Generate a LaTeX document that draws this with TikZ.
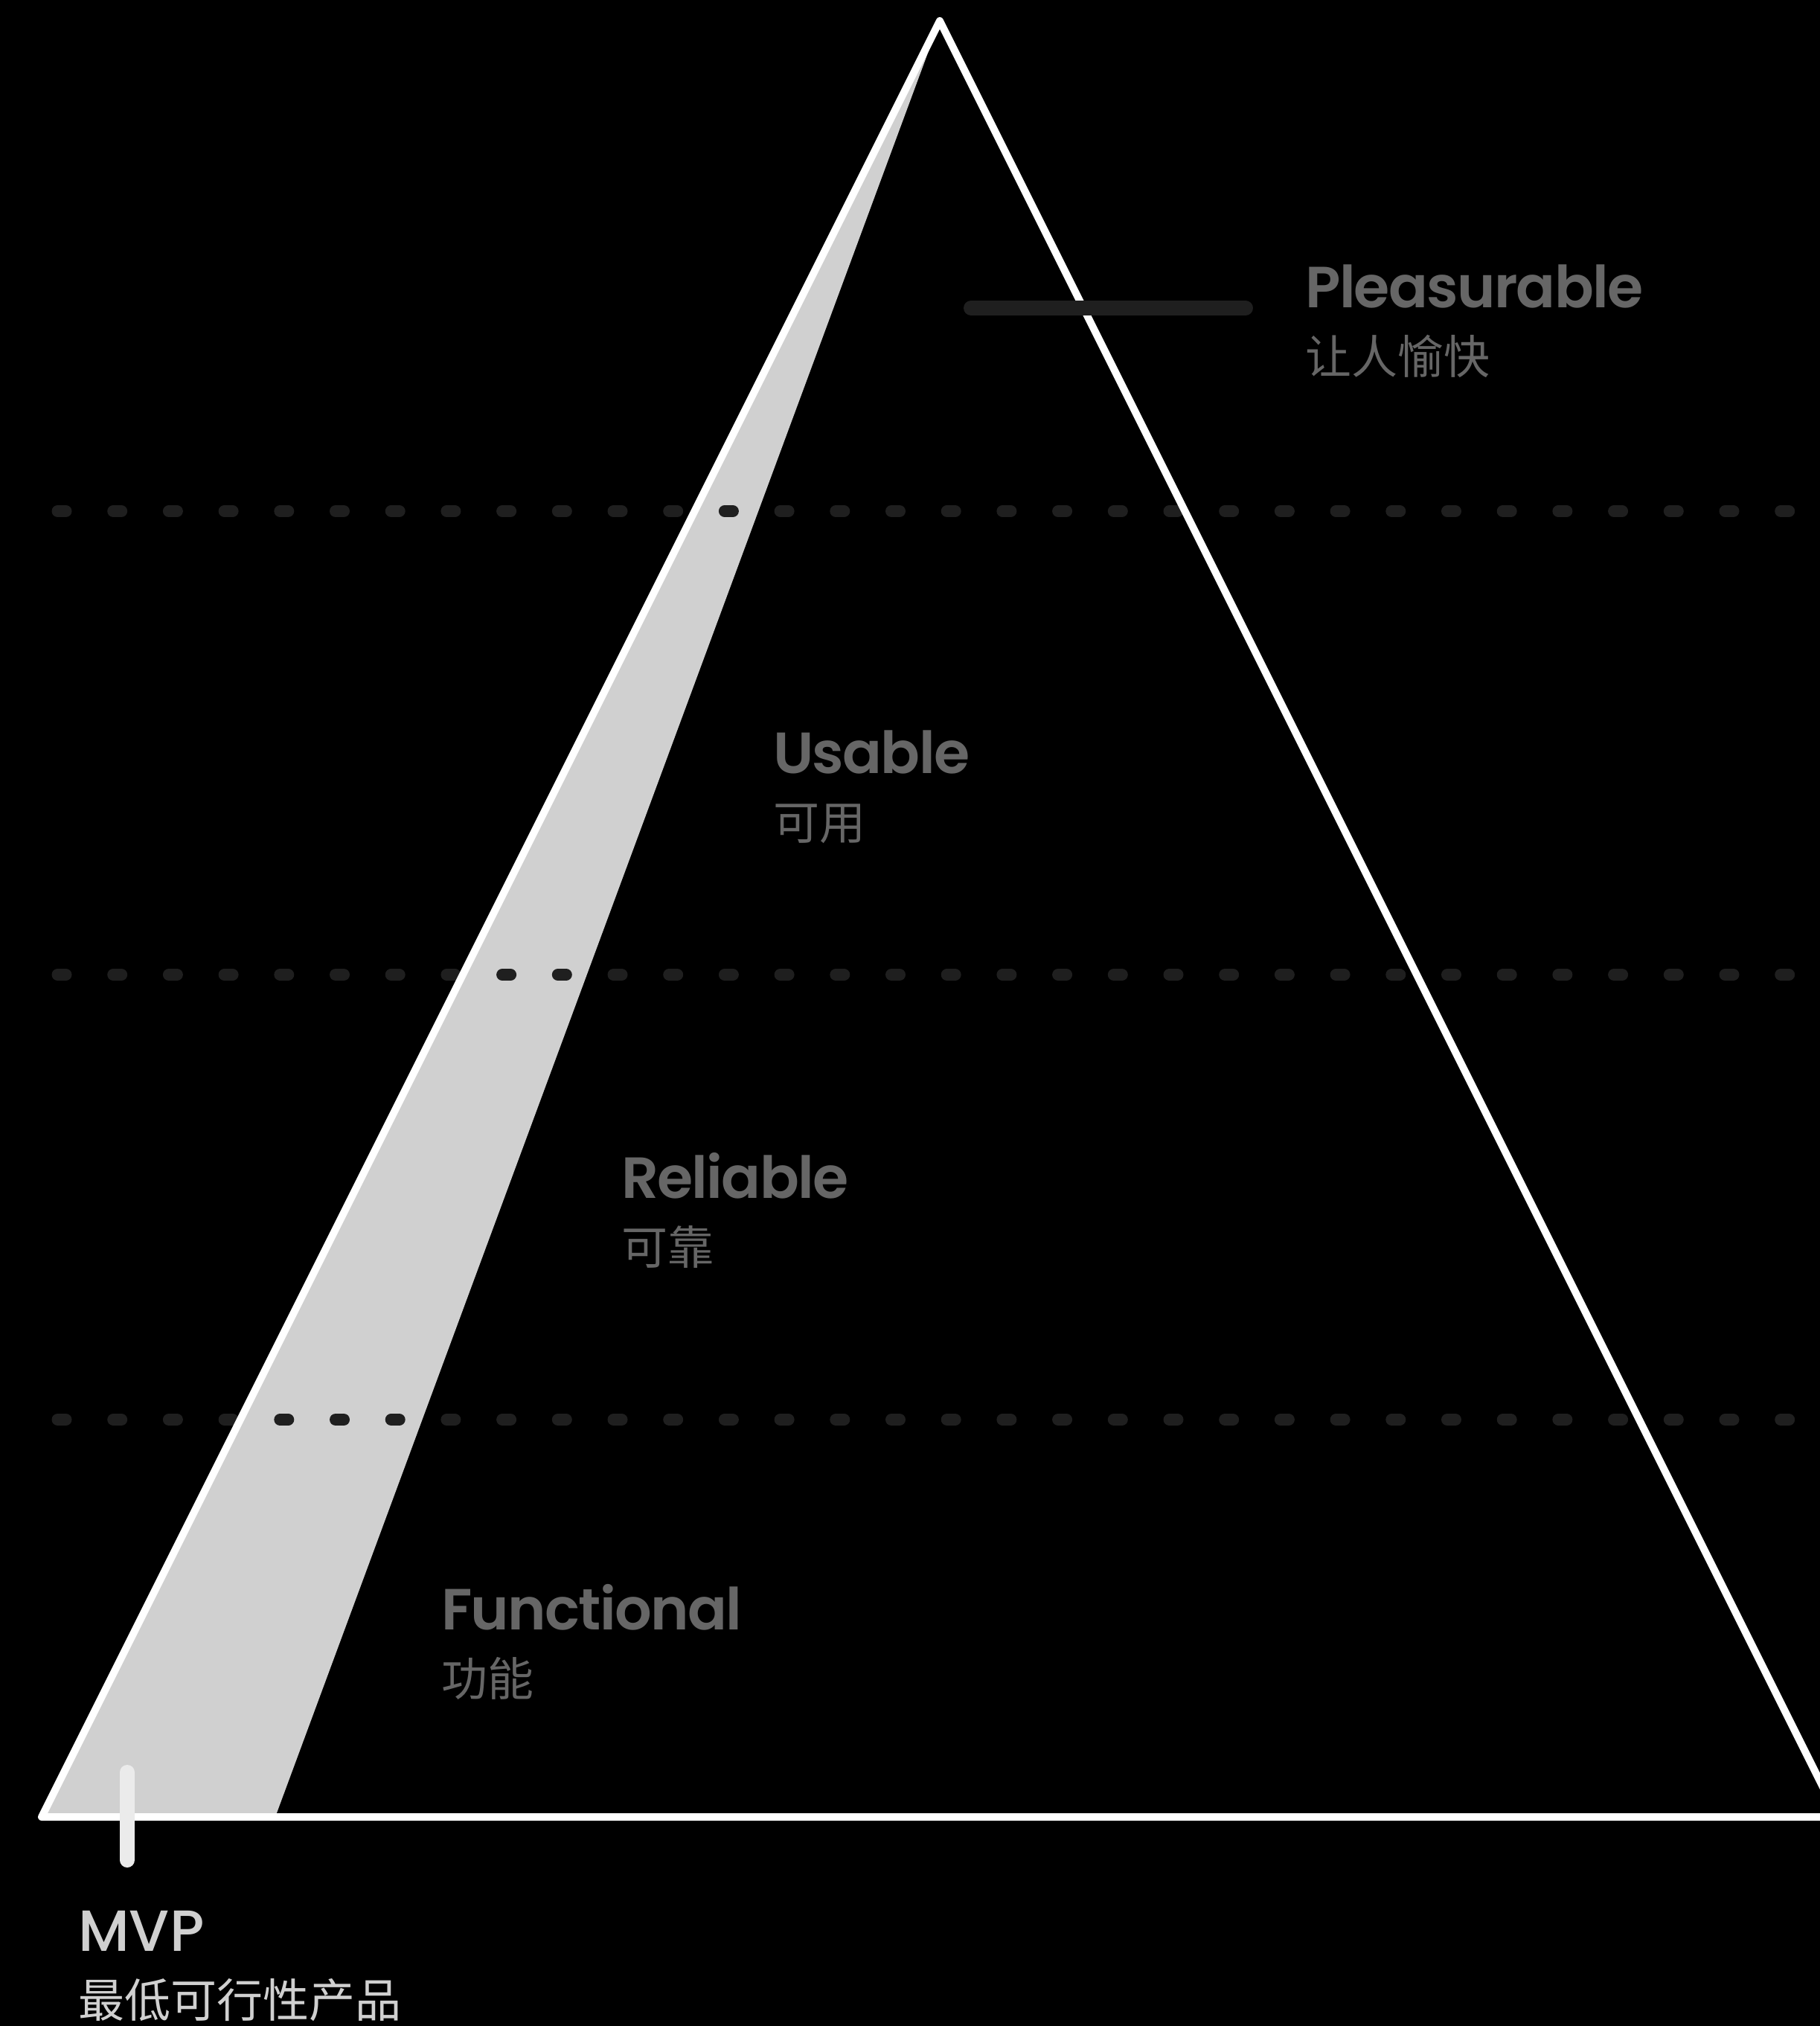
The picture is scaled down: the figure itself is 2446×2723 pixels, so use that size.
\documentclass[tikz,border=0pt]{standalone}
\usepackage{fontspec}
\usepackage{xcolor}
\usetikzlibrary{positioning}
\newfontfamily\labelfont{Poppins}[
    FontFace={sb}{n}{Poppins SemiBold},
    FontFace={mb}{n}{Poppins Medium}]
\newfontfamily\cjk{Noto Sans CJK SC}
\definecolor{wedgegrey}{HTML}{D0D0D0}
\definecolor{dashgrey}{HTML}{1F1F1F}
\definecolor{labelgrey}{HTML}{666666}
\definecolor{mvpgrey}{HTML}{D0D0D0}
\definecolor{tickgrey}{HTML}{EBEBEB}

\begin{document}
\begin{tikzpicture}[
    x=1pt, y=-1pt,
    outline/.style={draw=white, line width=10pt, line join=round},
    tierline/.style={draw=dashgrey, line width=16pt, line cap=round,
                     dash pattern=on 11pt off 63.7pt},
    marker/.style={line width=20pt, line cap=round},
    levelname/.style={anchor=base west, inner sep=0pt, text=labelgrey,
                      font=\labelfont\fontseries{sb}\fontsize{78}{94}\selectfont\addfontfeature{LetterSpace=-2.2}},
    levelcn/.style={anchor=base west, inner sep=0pt, text=labelgrey,
                    font=\cjk\fontsize{62}{74}\selectfont},
]

%% Canvas
\useasboundingbox (0,0) rectangle (2446,2723);
\fill[black] (0,0) rectangle (2446,2723);
\clip (0,0) rectangle (2446,2723);

%% Pyramid corners
\coordinate (apex) at (1263,28);
\coordinate (bl) at (56,2442);
\coordinate (br) at (2470,2442);
\coordinate (mvpedge) at (370,2442);

%% MVP wedge
\fill[wedgegrey] (apex) -- (bl) -- (mvpedge) -- cycle;

%% Tier boundaries
\foreach \y in {687,1310,1908}
    \draw[tierline] (77.5,\y) -- (2446,\y);

%% Outline
\draw[outline] (apex) -- (bl) -- (br) -- cycle;

%% Markers
\draw[marker, dashgrey] (1305,414) -- (1674,414);
\draw[marker, tickgrey] (171,2382) -- (171,2500);

%% Level labels
\node[levelname] (pleas) at (1754,413) {Pleasurable};
\node[levelcn] (pleascn) at ([yshift=-89pt]pleas.base west) {让人愉快};
\node[levelname] (usable) at (1039,1039) {Usable};
\node[levelcn] (usablecn) at ([yshift=-89pt]usable.base west) {可用};
\node[levelname] (reliable) at (835,1610) {Reliable};
\node[levelcn] (reliablecn) at ([yshift=-89pt]reliable.base west) {可靠};
\node[levelname] (func) at (593,2190) {Functional};
\node[levelcn] (funccn) at ([yshift=-89pt]func.base west) {功能};

%% MVP label
\node[levelname, text=mvpgrey, font=\labelfont\fontseries{mb}\fontsize{78}{94}\selectfont] (mvp) at (105,2622) {MVP};
\node[levelcn, text=mvpgrey] (mvpcn) at ([yshift=-89pt]mvp.base west) {最低可行性产品};

\end{tikzpicture}
\end{document}
